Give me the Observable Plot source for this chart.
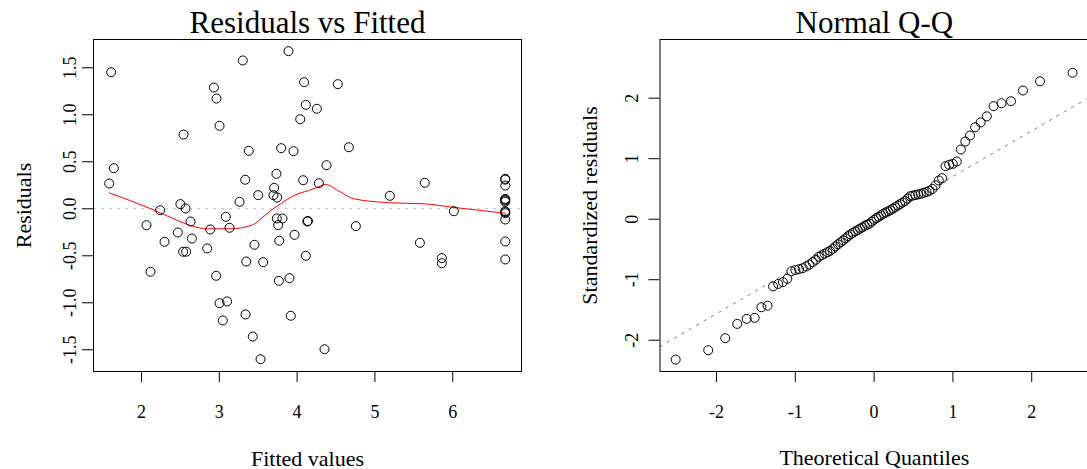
<!DOCTYPE html>
<html><head><meta charset="utf-8">
<script src="https://cdn.jsdelivr.net/npm/d3@7"></script>
<script src="https://cdn.jsdelivr.net/npm/@observablehq/plot@0.6"></script>
<style>
html,body{margin:0;padding:0;background:#fff;overflow:hidden;}
#wrap{display:flex;width:1100px;}
#wrap svg{display:block;flex:none;}
</style></head><body><div id="wrap"></div>
<script>
// Residuals vs Fitted
const fitted = [1.61,3.302,3.889,2.93,2.964,3.003,2.54,4.09,4.523,4.112,4.254,4.04,3.379,3.795,3.954,1.644,1.585,3.333,3.734,3.705,3.696,3.744,3.50,3.26,4.078,4.279,4.378,4.665,2.50,2.566,2.24,5.641,5.192,6.675,6.675,6.675,6.675,6.675,6.675,6.675,6.675,6.675,6.015,5.578,5.86,5.86,4.755,4.13,4.14,4.112,4.352,2.064,2.116,2.296,2.63,2.467,2.647,2.535,2.574,2.844,2.883,3.084,3.131,2.96,3.003,3.10,3.045,3.739,3.812,3.756,3.452,3.77,3.967,3.346,3.564,3.765,3.902,3.337,3.919,3.43,3.53,6.675,6.675,6.675,6.675];
const residuals = [1.453,1.578,1.677,1.29,1.173,0.883,0.79,1.347,1.326,1.106,1.064,0.953,0.617,0.645,0.613,0.432,0.269,0.309,0.372,0.223,0.145,0.12,0.145,0.074,0.304,0.272,0.464,0.655,0.05,0.003,-0.015,0.277,0.138,0.319,0.248,0.106,0.088,-0.026,-0.047,-0.114,-0.348,-0.539,-0.026,-0.362,-0.525,-0.579,-0.185,-0.135,-0.13,-0.50,-1.494,-0.174,-0.67,-0.351,-0.135,-0.252,-0.316,-0.457,-0.457,-0.422,-0.22,-0.085,-0.202,-0.713,-1.004,-0.986,-1.188,-0.103,-0.103,-0.174,-0.383,-0.34,-0.277,-0.561,-0.568,-0.766,-0.738,-1.124,-1.138,-1.359,-1.60,0.31,0.097,-0.035,0.075];
const smoothX = [1.585,2.12,2.45,2.63,2.85,3.14,3.43,3.55,3.66,3.8,3.92,4.05,4.15,4.25,4.365,4.56,4.73,5.2,5.63,6.015,6.675];
const smoothY = [0.17,0.0,-0.12,-0.178,-0.213,-0.213,-0.17,-0.095,-0.02,0.06,0.124,0.17,0.195,0.225,0.258,0.177,0.106,0.064,0.053,0.015,-0.047];
const fittedTicks = [2,3,4,5,6];
const residTicks = [-1.5,-1.0,-0.5,0.0,0.5,1.0,1.5];

// Normal Q-Q
const theoretical = [-2.518,-2.105,-1.889,-1.737,-1.617,-1.516,-1.430,-1.352,-1.282,-1.217,-1.157,-1.101,-1.049,-0.999,-0.952,-0.906,-0.863,-0.821,-0.780,-0.740,-0.702,-0.665,-0.629,-0.593,-0.559,-0.524,-0.491,-0.458,-0.425,-0.393,-0.361,-0.330,-0.299,-0.269,-0.238,-0.208,-0.178,-0.148,-0.118,-0.089,-0.059,-0.030,0,0.030,0.059,0.089,0.118,0.148,0.178,0.208,0.238,0.269,0.299,0.330,0.361,0.393,0.425,0.458,0.491,0.524,0.559,0.593,0.629,0.665,0.702,0.740,0.780,0.821,0.863,0.906,0.952,0.999,1.049,1.101,1.157,1.217,1.282,1.352,1.430,1.516,1.617,1.737,1.889,2.105,2.518];
const stdResiduals = [-2.32,-2.165,-1.967,-1.73,-1.647,-1.63,-1.455,-1.43,-1.11,-1.07,-1.04,-0.985,-0.86,-0.84,-0.825,-0.81,-0.78,-0.75,-0.71,-0.67,-0.62,-0.595,-0.57,-0.545,-0.525,-0.49,-0.45,-0.415,-0.38,-0.35,-0.315,-0.28,-0.25,-0.225,-0.20,-0.18,-0.155,-0.135,-0.11,-0.09,-0.075,-0.04,-0.01,0.02,0.04,0.065,0.09,0.11,0.13,0.15,0.175,0.20,0.225,0.25,0.275,0.30,0.34,0.38,0.39,0.40,0.41,0.42,0.435,0.45,0.47,0.50,0.56,0.64,0.678,0.876,0.90,0.915,0.954,1.152,1.284,1.383,1.52,1.60,1.70,1.868,1.917,1.95,2.127,2.28,2.42];
const qqLineX = [-3, 3];
const qqLineY = [-2.318, 2.218];
const qqTicksX = [-2,-1,0,1,2];
const qqTicksY = [-2,-1,0,1,2];

const font = "Liberation Serif";
const resid = fitted.map((f, i) => ({f, r: residuals[i]}));
const smooth = smoothX.map((x, i) => ({x, y: smoothY[i]}));
const qq = theoretical.map((q, i) => ({q, s: stdResiduals[i]}));
const qqLine = qqLineX.map((x, i) => ({x, y: qqLineY[i]}));
const txt = {text: d => d, fontFamily: font, fill: "black", textAnchor: "middle"};

const left = Plot.plot({
  width: 560, height: 469,
  marginLeft: 93, marginRight: 39, marginTop: 39, marginBottom: 98,
  style: {fontFamily: font, fontSize: "18px", background: "white", color: "black", overflow: "visible"},
  x: {domain: [1.383, 6.884]},
  y: {domain: [-1.731, 1.801]},
  marks: [
    Plot.ruleY([0], {stroke: "#bebebe", strokeDasharray: "3,5", strokeWidth: 1}),
    Plot.line(smooth, {x: "x", y: "y", stroke: "red", strokeWidth: 1, curve: "monotone-x"}),
    Plot.dot(resid, {x: "f", y: "r", r: 4.5, stroke: "black", fill: "none", strokeWidth: 1}),
    Plot.frame({stroke: "black", strokeWidth: 1}),
    Plot.axisX({ticks: fittedTicks, tickSize: 11, tickPadding: 23, tickFormat: d => String(d), fontSize: 18, label: null, stroke: "black"}),
    Plot.axisY({ticks: residTicks, tickSize: 11, tickPadding: 7, tickRotate: -90, tickFormat: d => d.toFixed(1), fontSize: 18, label: null, stroke: "black"}),
    Plot.text(["Residuals vs Fitted"], {...txt, frameAnchor: "top", dy: -7, lineAnchor: "bottom", fontSize: 31}),
    Plot.text(["Fitted values"], {...txt, frameAnchor: "bottom", dy: 94, lineAnchor: "bottom", fontSize: 22}),
    Plot.text(["Residuals"], {...txt, frameAnchor: "left", dx: -63, rotate: -90, lineAnchor: "bottom", fontSize: 22})
  ]
});

const right = Plot.plot({
  width: 528.2, height: 469,
  marginLeft: 99.5, marginRight: 0, marginTop: 39, marginBottom: 98,
  style: {fontFamily: font, fontSize: "18px", background: "white", color: "black", overflow: "visible"},
  x: {domain: [-2.717, 2.723]},
  y: {domain: [-2.517, 2.970]},
  marks: [
    Plot.line(qqLine, {x: "x", y: "y", stroke: "#7f7f7f", strokeDasharray: "2.5,6", strokeWidth: 1, clip: true}),
    Plot.dot(qq, {x: "q", y: "s", r: 4.5, stroke: "black", fill: "none", strokeWidth: 1}),
    Plot.frame({stroke: "black", strokeWidth: 1}),
    Plot.axisX({ticks: qqTicksX, tickSize: 11, tickPadding: 23, tickFormat: d => String(d), fontSize: 18, label: null, stroke: "black"}),
    Plot.axisY({ticks: qqTicksY, tickSize: 11, tickPadding: 11, tickRotate: -90, tickFormat: d => String(d), fontSize: 18, label: null, stroke: "black"}),
    Plot.text(["Normal Q-Q"], {...txt, frameAnchor: "top", dy: -7, lineAnchor: "bottom", fontSize: 31}),
    Plot.text(["Theoretical Quantiles"], {...txt, frameAnchor: "bottom", dy: 94, lineAnchor: "bottom", fontSize: 22}),
    Plot.text(["Standardized residuals"], {...txt, frameAnchor: "left", dx: -62.5, rotate: -90, lineAnchor: "bottom", fontSize: 22})
  ]
});

document.getElementById("wrap").append(left, right);
</script></body></html>
